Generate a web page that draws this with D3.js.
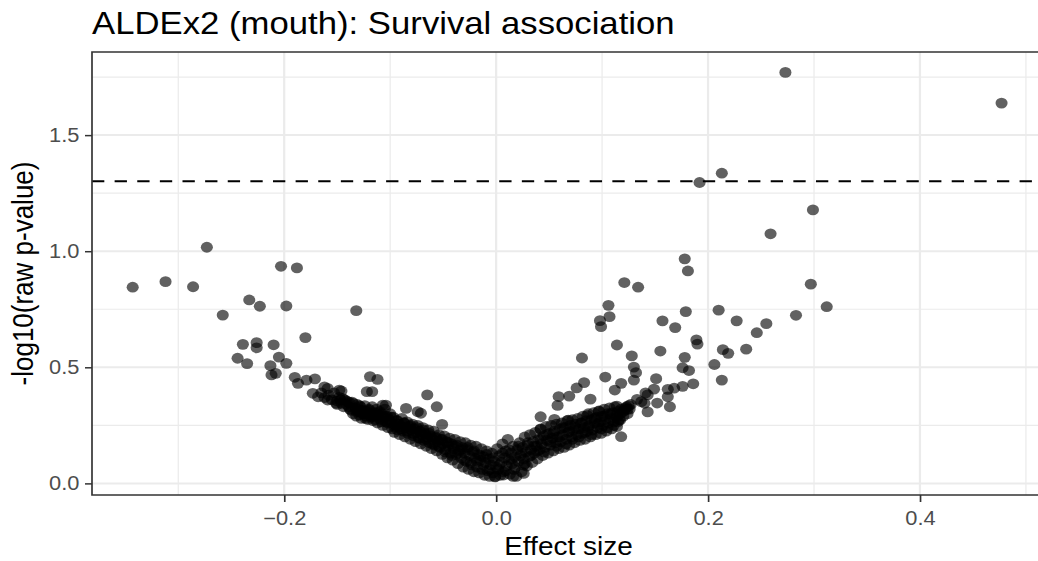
<!DOCTYPE html>
<html>
<head>
<meta charset="utf-8">
<script src="https://cdn.jsdelivr.net/npm/d3@7"></script>
<style>
  html, body { margin: 0; padding: 0; background: #fff; }
  svg { display: block; font-family: "Liberation Sans", Arial, sans-serif; }
</style>
</head>
<body>
<svg id="chart" width="1038" height="561"></svg>
<script>
// ---- data: [effect size, -log10(raw p)] ----
const xTicks = [-0.2, 0, 0.2, 0.4];
const xMinor = [-0.3, -0.1, 0.1, 0.3, 0.5];
const yTicks = [0, 0.5, 1.0, 1.5];
const yMinor = [0.25, 0.75, 1.25, 1.75];
const pThreshold = 1.30103; // -log10(0.05)

// scattered taxa, negative effect
const leftOutliers = [
  [-0.343,0.845],[-0.312,0.869],[-0.286,0.847],[-0.273,1.017],[-0.258,0.725],[-0.233,0.790],
  [-0.223,0.763],[-0.203,0.935],[-0.188,0.928],[-0.198,0.764],[-0.132,0.744],[-0.180,0.628],
  [-0.239,0.599],[-0.226,0.606],[-0.226,0.584],[-0.210,0.597],[-0.244,0.539],[-0.235,0.516],
  [-0.213,0.507],[-0.205,0.544],[-0.198,0.517],[-0.212,0.467],[-0.208,0.474],[-0.190,0.457],
  [-0.187,0.431],[-0.179,0.445],[-0.171,0.450],[-0.173,0.388],[-0.168,0.373],[-0.159,0.409],
  [-0.159,0.359],[-0.151,0.345],[-0.146,0.398],[-0.145,0.366],[-0.139,0.350],[-0.119,0.460],
  [-0.112,0.448],[-0.122,0.395],[-0.117,0.395],[-0.065,0.381],[-0.056,0.330],[-0.071,0.302],
  [-0.085,0.323],[-0.051,0.254],[-0.104,0.337],[-0.074,0.309],[-0.129,0.316],[-0.162,0.416],
  [-0.148,0.402],[-0.107,0.337]
];

// scattered taxa, positive effect
const rightOutliers = [
  [0.273,1.770],[0.477,1.638],[0.192,1.296],[0.213,1.336],[0.299,1.178],[0.259,1.075],
  [0.178,0.967],[0.181,0.915],[0.297,0.858],[0.312,0.761],[0.283,0.724],[0.255,0.688],
  [0.246,0.649],[0.236,0.578],[0.227,0.700],[0.210,0.746],[0.179,0.740],[0.157,0.700],
  [0.169,0.671],[0.189,0.618],[0.121,0.865],[0.134,0.845],[0.106,0.767],[0.107,0.718],
  [0.098,0.701],[0.099,0.675],[0.114,0.596],[0.190,0.600],[0.155,0.570],[0.081,0.540],
  [0.128,0.549],[0.178,0.543],[0.130,0.501],[0.132,0.477],[0.176,0.498],[0.182,0.486],
  [0.206,0.512],[0.214,0.576],[0.219,0.560],[0.213,0.445],[0.103,0.458],[0.118,0.431],
  [0.130,0.445],[0.112,0.402],[0.151,0.451],[0.149,0.406],[0.141,0.390],[0.186,0.429],
  [0.176,0.418],[0.168,0.410],[0.162,0.405],[0.162,0.373],[0.152,0.346],[0.140,0.345],
  [0.164,0.330],[0.143,0.308],[0.133,0.362],[0.137,0.352],[0.143,0.381],[0.126,0.320],
  [0.115,0.266],[0.117,0.273],[0.114,0.333],[0.118,0.201],[0.089,0.363],[0.097,0.312],
  [0.083,0.434],[0.076,0.411],[0.069,0.376],[0.059,0.374],[0.058,0.336],[0.042,0.287],
  [0.055,0.276],[0.068,0.272],[0.086,0.292],[0.042,0.233]
];

// dense band, negative side
const leftBand = [
  [-0.165,0.39],[-0.162,0.37],[-0.158,0.38],[-0.155,0.36],[-0.153,0.39],[-0.150,0.355],[-0.148,0.37],
  [-0.146,0.345],[-0.143,0.36],[-0.141,0.34],[-0.139,0.33],[-0.137,0.315],[-0.136,0.35],[-0.135,0.30],
  [-0.133,0.325],[-0.132,0.29],[-0.131,0.34],[-0.130,0.31],[-0.129,0.295],[-0.128,0.33],[-0.127,0.28],
  [-0.126,0.315],[-0.125,0.30],[-0.124,0.335],[-0.123,0.29],[-0.122,0.31],[-0.121,0.275],[-0.120,0.32],
  [-0.119,0.30],[-0.118,0.285],[-0.117,0.33],[-0.116,0.27],[-0.115,0.305],[-0.114,0.29],[-0.113,0.32],
  [-0.112,0.26],[-0.111,0.295],[-0.110,0.31],[-0.109,0.275],[-0.108,0.30],[-0.107,0.25],[-0.106,0.285],
  [-0.105,0.32],[-0.104,0.265],[-0.103,0.29],[-0.102,0.24],[-0.101,0.275],[-0.100,0.30],
  [-0.099,0.26],[-0.098,0.235],[-0.097,0.285],[-0.096,0.22],[-0.095,0.25],[-0.094,0.27],[-0.093,0.23],
  [-0.092,0.255],[-0.091,0.21],[-0.090,0.245],[-0.089,0.28],[-0.088,0.225],[-0.087,0.26],[-0.086,0.20],
  [-0.085,0.24],[-0.084,0.265],[-0.083,0.215],[-0.082,0.245],[-0.081,0.19],[-0.080,0.23],
  [-0.079,0.255],[-0.078,0.205],[-0.077,0.235],[-0.076,0.18],[-0.075,0.22],[-0.074,0.25],[-0.073,0.195],
  [-0.072,0.225],[-0.071,0.17],[-0.070,0.21],[-0.069,0.24],[-0.068,0.185],[-0.067,0.215],[-0.066,0.16],
  [-0.065,0.20],[-0.064,0.23],[-0.063,0.175],[-0.062,0.205],[-0.061,0.15],[-0.060,0.19],
  [-0.059,0.225],[-0.058,0.165],[-0.057,0.20],[-0.056,0.14],[-0.055,0.18],[-0.054,0.21],[-0.053,0.155],
  [-0.052,0.19],[-0.051,0.125],[-0.050,0.17],[-0.049,0.205],[-0.048,0.145],[-0.047,0.18],[-0.046,0.11],
  [-0.045,0.16],[-0.044,0.195],[-0.043,0.13],[-0.042,0.17],[-0.041,0.10],[-0.040,0.15],
  [-0.039,0.19],[-0.038,0.125],[-0.037,0.165],[-0.036,0.085],[-0.035,0.14],[-0.034,0.18],[-0.033,0.11],
  [-0.032,0.155],[-0.031,0.07],[-0.030,0.13],[-0.029,0.175],[-0.028,0.095],[-0.027,0.145],[-0.026,0.06],
  [-0.025,0.12],[-0.024,0.165],[-0.023,0.08],[-0.022,0.135],[-0.021,0.05],[-0.020,0.11],
  [-0.019,0.16],[-0.018,0.07],[-0.017,0.125],[-0.016,0.045],[-0.015,0.10],[-0.014,0.15],[-0.013,0.06],
  [-0.012,0.115],[-0.011,0.035],[-0.010,0.09],[-0.009,0.14],[-0.008,0.055],[-0.007,0.105],[-0.006,0.03],
  [-0.005,0.08],[-0.004,0.13],[-0.003,0.045],[-0.002,0.095],[-0.001,0.028],[0.000,0.07],
  // second layer
  [-0.150,0.34],[-0.147,0.36],[-0.144,0.33],[-0.141,0.355],[-0.138,0.32],[-0.135,0.345],[-0.132,0.31],
  [-0.129,0.335],[-0.126,0.30],[-0.123,0.28],[-0.120,0.315],[-0.117,0.29],[-0.114,0.275],[-0.111,0.305],
  [-0.108,0.265],[-0.105,0.29],[-0.102,0.26],[-0.099,0.285],[-0.096,0.245],[-0.093,0.27],[-0.090,0.235],
  [-0.087,0.26],[-0.084,0.225],[-0.081,0.25],[-0.078,0.215],[-0.075,0.24],[-0.072,0.195],[-0.069,0.23],
  [-0.066,0.19],[-0.063,0.215],[-0.060,0.17],[-0.057,0.195],[-0.054,0.16],[-0.051,0.19],[-0.048,0.135],
  [-0.045,0.175],[-0.042,0.12],[-0.039,0.16],[-0.036,0.13],[-0.033,0.145],[-0.030,0.10],[-0.027,0.155],
  [-0.024,0.09],[-0.021,0.14],[-0.018,0.095],[-0.015,0.12],[-0.012,0.08],[-0.009,0.125],[-0.006,0.06],
  [-0.003,0.11]
];

// dense band, positive side
const rightBand = [
  [0.001,0.15],[0.002,0.06],[0.003,0.12],[0.004,0.035],[0.005,0.09],[0.006,0.17],[0.007,0.05],
  [0.008,0.11],[0.009,0.14],[0.010,0.075],[0.011,0.19],[0.012,0.10],[0.013,0.04],[0.014,0.13],
  [0.015,0.085],[0.016,0.16],[0.017,0.06],[0.018,0.115],[0.019,0.03],[0.020,0.145],
  [0.021,0.095],[0.022,0.175],[0.023,0.12],[0.024,0.05],[0.025,0.155],[0.026,0.105],[0.027,0.20],
  [0.028,0.135],[0.029,0.075],[0.030,0.165],[0.031,0.115],[0.032,0.21],[0.033,0.145],[0.034,0.09],
  [0.035,0.18],[0.036,0.13],[0.037,0.22],[0.038,0.16],[0.039,0.105],[0.040,0.19],
  [0.041,0.145],[0.042,0.235],[0.043,0.17],[0.044,0.12],[0.045,0.205],[0.046,0.155],[0.047,0.245],
  [0.048,0.185],[0.049,0.13],[0.050,0.215],[0.051,0.165],[0.052,0.25],[0.053,0.195],[0.054,0.14],
  [0.055,0.225],[0.056,0.175],[0.057,0.255],[0.058,0.20],[0.059,0.15],[0.060,0.235],
  [0.061,0.18],[0.062,0.26],[0.063,0.21],[0.064,0.155],[0.065,0.24],[0.066,0.19],[0.067,0.27],
  [0.068,0.22],[0.069,0.165],[0.070,0.25],[0.071,0.20],[0.072,0.275],[0.073,0.23],[0.074,0.175],
  [0.075,0.255],[0.076,0.21],[0.077,0.28],[0.078,0.235],[0.079,0.185],[0.080,0.26],
  [0.081,0.215],[0.082,0.29],[0.083,0.24],[0.084,0.19],[0.085,0.27],[0.086,0.225],[0.087,0.30],
  [0.088,0.25],[0.089,0.20],[0.090,0.275],[0.091,0.23],[0.092,0.305],[0.093,0.26],[0.094,0.21],
  [0.095,0.285],[0.096,0.24],[0.097,0.31],[0.098,0.265],[0.099,0.215],[0.100,0.29],
  [0.101,0.25],[0.102,0.32],[0.103,0.275],[0.104,0.225],[0.105,0.30],[0.106,0.26],[0.107,0.325],
  [0.108,0.28],[0.109,0.235],[0.110,0.305],[0.111,0.265],[0.112,0.33],[0.113,0.29],[0.114,0.245],
  [0.115,0.31],[0.116,0.275],[0.118,0.32],[0.120,0.29],[0.122,0.325],[0.124,0.30],
  [0.123,0.33],[0.125,0.335],[0.124,0.32],[0.127,0.34],[0.121,0.315],
  [-0.001,0.03],[0.007,0.036],[0.016,0.03],[0.026,0.043],[0.026,0.079],
  // second layer
  [0.003,0.08],[0.006,0.13],[0.009,0.055],[0.012,0.145],[0.015,0.105],[0.018,0.07],[0.021,0.16],
  [0.024,0.13],[0.027,0.085],[0.030,0.175],[0.033,0.12],[0.036,0.16],[0.039,0.14],[0.042,0.19],
  [0.045,0.135],[0.048,0.21],[0.051,0.18],[0.054,0.215],[0.057,0.16],[0.060,0.20],[0.063,0.24],
  [0.066,0.17],[0.069,0.225],[0.072,0.19],[0.075,0.24],[0.078,0.20],[0.081,0.26],[0.084,0.22],
  [0.087,0.245],[0.090,0.21],[0.093,0.28],[0.096,0.255],[0.099,0.235],[0.102,0.29],[0.105,0.24],
  [0.108,0.30],[0.111,0.25],[0.114,0.285],[0.117,0.30],[0.120,0.31]
];

const allPoints = [...leftBand, ...rightBand, ...leftOutliers, ...rightOutliers];

// ---- layout ----
// the reference picture is stretched a little horizontally, so draw in a narrower
// viewBox and let the svg stretch it back out
const sx = 1.12;
const W = 1038 / sx, H = 561;
const svg = d3.select("#chart")
  .attr("viewBox", `0 0 ${W} ${H}`)
  .attr("preserveAspectRatio", "none");

const panel = {left: 92 / sx, right: 1045 / sx, top: 52, bottom: 495};

const x = d3.scaleLinear().domain([-0.3814, 0.518]).range([panel.left, panel.right]);
const y = d3.scaleLinear().domain([-0.05, 1.858]).range([panel.bottom, panel.top]);

svg.append("clipPath").attr("id", "clip")
  .append("rect")
  .attr("x", panel.left).attr("y", panel.top)
  .attr("width", panel.right - panel.left).attr("height", panel.bottom - panel.top);

const grid = svg.append("g").attr("clip-path", "url(#clip)");

// minor grid
grid.selectAll(".vminor").data(xMinor).join("line")
  .attr("x1", d => x(d)).attr("x2", d => x(d))
  .attr("y1", panel.top).attr("y2", panel.bottom)
  .attr("stroke", "#EBEBEB").attr("stroke-width", 1.1);
grid.selectAll(".hminor").data(yMinor).join("line")
  .attr("x1", panel.left).attr("x2", panel.right)
  .attr("y1", d => y(d)).attr("y2", d => y(d))
  .attr("stroke", "#EBEBEB").attr("stroke-width", 1.1);

// major grid
grid.selectAll(".vmajor").data(xTicks).join("line")
  .attr("x1", d => x(d)).attr("x2", d => x(d))
  .attr("y1", panel.top).attr("y2", panel.bottom)
  .attr("stroke", "#EBEBEB").attr("stroke-width", 2);
grid.selectAll(".hmajor").data(yTicks).join("line")
  .attr("x1", panel.left).attr("x2", panel.right)
  .attr("y1", d => y(d)).attr("y2", d => y(d))
  .attr("stroke", "#EBEBEB").attr("stroke-width", 2);

// points
svg.append("g").attr("clip-path", "url(#clip)")
  .selectAll("circle")
  .data(allPoints)
  .join("circle")
  .attr("cx", d => x(d[0]))
  .attr("cy", d => y(d[1]))
  .attr("r", 5.4)
  .attr("fill", "#000")
  .attr("fill-opacity", 0.62);

// significance line
svg.append("line")
  .attr("x1", panel.left).attr("x2", panel.right)
  .attr("y1", y(pThreshold)).attr("y2", y(pThreshold))
  .attr("stroke", "#000").attr("stroke-width", 2)
  .attr("stroke-dasharray", "11,9.2");

// panel border
svg.append("rect")
  .attr("x", panel.left).attr("y", panel.top)
  .attr("width", panel.right - panel.left).attr("height", panel.bottom - panel.top)
  .attr("fill", "none").attr("stroke", "#333333").attr("stroke-width", 1.5);

// axes
const fmt = d3.format(".1f");
const xAxis = svg.append("g")
  .attr("transform", `translate(0,${panel.bottom})`)
  .call(d3.axisBottom(x).tickValues(xTicks).tickSize(7).tickPadding(9).tickFormat(fmt));
const yAxis = svg.append("g")
  .attr("transform", `translate(${panel.left},0)`)
  .call(d3.axisLeft(y).tickValues(yTicks).tickSize(7 / sx).tickPadding(5).tickFormat(fmt));

[xAxis, yAxis].forEach(g => {
  g.select(".domain").remove();
  g.selectAll(".tick line").attr("stroke", "#333333").attr("stroke-width", 1.5);
  g.selectAll(".tick text")
    .attr("fill", "#4D4D4D")
    .style("font-size", "19.5px")
    .style("font-family", "'Liberation Sans', Arial, sans-serif");
});

// titles
svg.append("text")
  .attr("x", panel.left)
  .attr("y", 34)
  .attr("font-size", 31)
  .attr("fill", "#000")
  .text("ALDEx2 (mouth): Survival association");

svg.append("text")
  .attr("x", (panel.left + panel.right) / 2)
  .attr("y", 555)
  .attr("text-anchor", "middle")
  .attr("font-size", 25)
  .attr("fill", "#000")
  .text("Effect size");

svg.append("text")
  .attr("transform", `translate(${33 / sx},${(panel.top + panel.bottom) / 2}) rotate(-90)`)
  .attr("text-anchor", "middle")
  .attr("font-size", 26)
  .attr("fill", "#000")
  .text("-log10(raw p-value)");
</script>
</body>
</html>
